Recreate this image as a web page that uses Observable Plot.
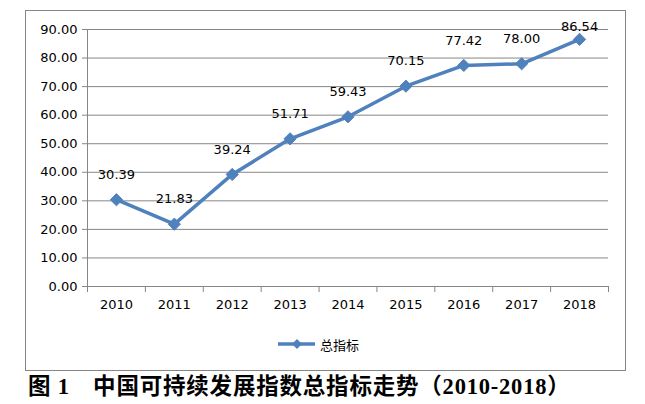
<!DOCTYPE html>
<html>
<head>
<meta charset="utf-8">
<script src="https://cdn.jsdelivr.net/npm/d3@7"></script>
<script src="https://cdn.jsdelivr.net/npm/@observablehq/plot@0.6"></script>
<style>
  html, body { margin: 0; padding: 0; background: #fff; }
  #wrap { position: relative; width: 645px; height: 404px; }
  #border { position: absolute; left: 25px; top: 10px; width: 599px; height: 359px; border: 1px solid #868686; box-sizing: content-box; pointer-events: none; }
  #legend { position: absolute; left: 278px; top: 335px; height: 18px; display: flex; align-items: center; font-family: "Noto Sans CJK SC", sans-serif; font-size: 13px; color: #000; }
  #legend svg { margin-right: 5px; }
  #caption { position: absolute; left: 28px; top: 372px; font-family: "Liberation Serif", "Noto Sans CJK SC", serif; font-weight: bold; font-size: 22.5px; letter-spacing: 0.8px; line-height: 30px; color: #000; white-space: pre; }
</style>
</head>
<body>
<div id="wrap">
  <div id="chart"></div>
  <div id="border"></div>
  <div id="legend"></div>
  <div id="caption"></div>
</div>
<script>
const years = [2010, 2011, 2012, 2013, 2014, 2015, 2016, 2017, 2018];
const values = [30.39, 21.83, 39.24, 51.71, 59.43, 70.15, 77.42, 78.00, 86.54];
const yTicks = [0, 10, 20, 30, 40, 50, 60, 70, 80, 90];
const seriesName = "总指标";
const captionText = "图 1　中国可持续发展指数总指标走势（2010-2018）";

const data = years.map((y, i) => ({year: y, value: values[i]}));
const blue = "#4F81BD";
const gray = "#868686";

const W = 645, H = 372, mT = 29, mB = 86, mL = 87, mR = 37;
const ppu = (H - mT - mB) / 90;
const labelY = d => Math.min(d.value + 25 / ppu, 90 + 3 / ppu);
const bounds = years.map(y => y - 0.5).concat([years[years.length - 1] + 0.5]);

const chart = Plot.plot({
  width: W,
  height: H,
  marginTop: mT,
  marginBottom: mB,
  marginLeft: mL,
  marginRight: mR,
  style: {fontFamily: "DejaVu Sans", fontSize: "13px", color: "#000", background: "transparent"},
  x: {domain: [bounds[0], bounds[bounds.length - 1]]},
  y: {domain: [0, 90]},
  marks: [
    Plot.gridY(yTicks.filter(t => t > 0), {stroke: gray, strokeOpacity: 1}),
    Plot.ruleY([0], {stroke: gray}),
    Plot.ruleX([bounds[0]], {stroke: gray}),
    Plot.axisY({ticks: yTicks, tickSize: 5, tickPadding: 5, stroke: gray, strokeOpacity: 1, tickFormat: d => d.toFixed(2), label: null, fill: "#000"}),
    Plot.axisX({ticks: bounds, tickSize: 6, stroke: gray, strokeOpacity: 1, text: null, label: null}),
    Plot.axisX({ticks: years, tickSize: 0, tickPadding: 13, tickFormat: d => String(d), label: null, fill: "#000"}),
    Plot.line(data, {x: "year", y: "value", stroke: blue, strokeWidth: 3.5, strokeLinejoin: "round"}),
    Plot.dot(data, {x: "year", y: "value", symbol: "diamond2", r: 5.5, fill: blue, stroke: blue, strokeWidth: 1}),
    Plot.text(data, {x: "year", y: labelY, text: d => d.value.toFixed(2), fill: "#000", clip: false})
  ]
});
document.getElementById("chart").appendChild(chart);

// legend
const leg = document.getElementById("legend");
const sw = d3.create("svg").attr("width", 37).attr("height", 18);
sw.append("line").attr("x1", 0).attr("x2", 37).attr("y1", 9).attr("y2", 9).attr("stroke", blue).attr("stroke-width", 3.5);
sw.append("path").attr("d", d3.symbol(d3.symbolDiamond2, 4.5 * 4.5 * Math.PI)()).attr("transform", "translate(19,9)").attr("fill", blue);
leg.appendChild(sw.node());
const lt = document.createElement("span");
lt.textContent = seriesName;
leg.appendChild(lt);

document.getElementById("caption").textContent = captionText;
</script>
</body>
</html>
